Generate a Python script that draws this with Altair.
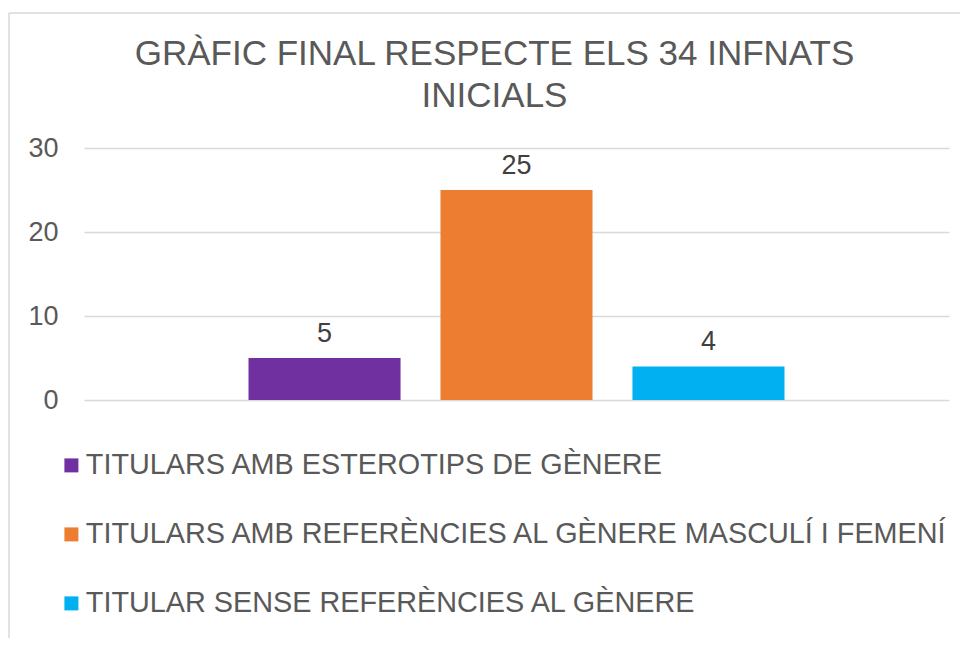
import altair as alt
import pandas as pd

title_lines = ["GRÀFIC FINAL RESPECTE ELS 34 INFNATS", "INICIALS"]
series = [
    "TITULARS AMB ESTEROTIPS DE GÈNERE",
    "TITULARS AMB REFERÈNCIES AL GÈNERE MASCULÍ I FEMENÍ",
    "TITULAR SENSE REFERÈNCIES AL GÈNERE",
]
values = [5, 25, 4]
colors = ["#7030A0", "#ED7D31", "#00B0F0"]
y_ticks = [0, 10, 20, 30]

df = pd.DataFrame({"serie": series, "valor": values})

FONT = "Liberation Sans"

x_scale = alt.Scale(paddingInner=0.208, paddingOuter=0.857)
y_scale = alt.Scale(domain=[0, 30], nice=False)

bars = alt.Chart(df).mark_bar().encode(
    x=alt.X("serie:N", sort=series, scale=x_scale, axis=None),
    y=alt.Y(
        "valor:Q",
        scale=y_scale,
        axis=alt.Axis(
            values=y_ticks,
            title=None,
            domain=False,
            ticks=False,
            labelFont=FONT,
            labelFontSize=27,
            labelColor="#595959",
            labelPadding=26,
            gridColor="#d9d9d9",
            gridWidth=1.5,
        ),
    ),
    color=alt.Color(
        "serie:N",
        sort=series,
        scale=alt.Scale(domain=series, range=colors),
        legend=alt.Legend(
            title=None,
            orient="none",
            legendX=-27,
            legendY=303,
            padding=0,
            direction="vertical",
            symbolType="square",
            symbolSize=196,
            symbolStrokeWidth=0,
            labelFont=FONT,
            labelFontSize=28.8,
            labelColor="#595959",
            labelOffset=0,
            labelLimit=0,
            rowPadding=39,
        ),
    ),
)

labels = alt.Chart(df).mark_text(
    font=FONT, fontSize=27, color="#404040", baseline="alphabetic", dy=-16
).encode(
    x=alt.X("serie:N", sort=series, scale=x_scale, axis=None),
    y=alt.Y("valor:Q", scale=y_scale),
    text=alt.Text("valor:Q"),
)

frame_df = pd.DataFrame({"k": [0]})
left_border = alt.Chart(frame_df).mark_rule(color="#d9d9d9", strokeWidth=1.5).encode(
    x=alt.value(-75), y=alt.value(-135), y2=alt.value(520)
)
top_border = alt.Chart(frame_df).mark_rule(color="#d9d9d9", strokeWidth=1.5).encode(
    x=alt.value(-75), x2=alt.value(900), y=alt.value(-135)
)

chart = (
    alt.layer(left_border, top_border, bars, labels)
    .properties(
        width=865,
        height=252,
        autosize=alt.AutoSizeParams(type="none"),
        padding={"left": 76, "top": 140, "right": 11, "bottom": 238},
        title=alt.TitleParams(
            text=title_lines,
            font=FONT,
            fontSize=35,
            fontWeight="normal",
            color="#595959",
            anchor="middle",
            frame="group",
            baseline="bottom",
            dx=-22,
            offset=-137,
            lineHeight=42,
        ),
    )
    .configure_view(stroke=None)
)

chart.save("out.html", embed_options={"renderer": "svg", "actions": False})
